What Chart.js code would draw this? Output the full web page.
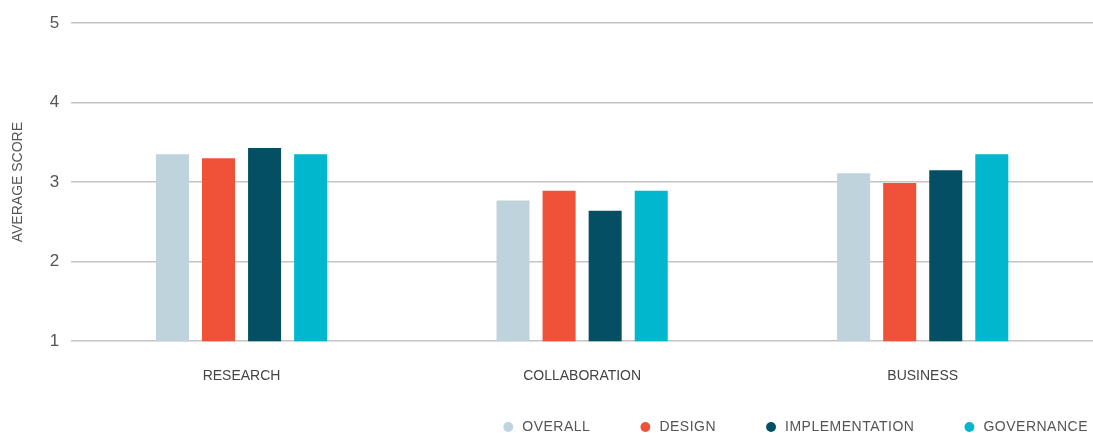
<!DOCTYPE html>
<html>
<head>
<meta charset="utf-8">
<script src="https://cdn.jsdelivr.net/npm/chart.js@4.4.1/dist/chart.umd.min.js"></script>
<style>
  html, body { margin: 0; padding: 0; background: #fff; }
  #wrap { width: 1093px; height: 433px; position: relative; }
</style>
</head>
<body>
<div id="wrap"><canvas id="scoreChart"></canvas></div>
<script>
const categories = ['RESEARCH', 'COLLABORATION', 'BUSINESS'];
const seriesNames = ['OVERALL', 'DESIGN', 'IMPLEMENTATION', 'GOVERNANCE'];
const overall = [3.35, 2.77, 3.11];
const design = [3.30, 2.89, 2.99];
const implementation = [3.43, 2.64, 3.15];
const governance = [3.35, 2.89, 3.35];
const yTicks = [1, 2, 3, 4, 5];

const colors = ['#bfd3dc', '#f05239', '#054f64', '#00b7cd'];
const FONT = "'Liberation Sans', Arial, sans-serif";

// wide gaps between legend items without the legend eating the plot height,
// then push it down/right to sit under the bars at the right edge
const legendNudge = {
    id: 'legendNudge',
    beforeInit(chart) {
        const lg = chart.legend;
        const fit = lg.fit;
        const draw = lg.draw;
        lg.fit = function () {
            this.ctx.letterSpacing = '0.5px';
            fit.call(this);
            this.ctx.letterSpacing = '0px';
            this.height = 21;
        };
        lg.draw = function () {
            this.ctx.letterSpacing = '0.5px';
            draw.call(this);
            this.ctx.letterSpacing = '0px';
        };
    },
    afterLayout(chart) {
        const lg = chart.legend;
        lg.top -= 40;
        lg.right += 43;
    }
};

const ctx = document.getElementById('scoreChart');
new Chart(ctx, {
    type: 'bar',
    data: {
        labels: categories,
        datasets: [overall, design, implementation, governance].map((vals, i) => ({
            label: seriesNames[i],
            data: vals,
            backgroundColor: colors[i],
            borderWidth: 0,
            categoryPercentage: 0.541,
            barPercentage: 0.717
        }))
    },
    options: {
        responsive: true,
        maintainAspectRatio: false,
        animation: false,
        layout: {
            padding: { top: 23, left: 6, right: 0, bottom: 0 }
        },
        scales: {
            x: {
                grid: { display: false, drawTicks: false },
                border: { display: false },
                ticks: {
                    color: '#444',
                    padding: 27,
                    font: { size: 14, family: FONT }
                }
            },
            y: {
                min: 1,
                max: 5,
                afterBuildTicks: axis => { axis.ticks = yTicks.map(v => ({ value: v })); },
                border: { display: false },
                grid: { color: '#c4c4c4', lineWidth: 1.5, drawTicks: false },
                ticks: {
                    color: '#555',
                    padding: 12,
                    font: { size: 17, family: FONT }
                },
                title: {
                    display: true,
                    text: 'AVERAGE SCORE',
                    color: '#555',
                    padding: { top: 4, bottom: 11 },
                    font: { size: 14, family: FONT }
                }
            }
        },
        plugins: {
            legend: {
                position: 'bottom',
                align: 'end',
                labels: {
                    usePointStyle: true,
                    pointStyle: 'circle',
                    boxHeight: 7,
                    padding: 48,
                    color: '#555',
                    font: { size: 14, family: FONT }
                }
            },
            tooltip: { enabled: false }
        }
    },
    plugins: [legendNudge]
});
</script>
</body>
</html>
